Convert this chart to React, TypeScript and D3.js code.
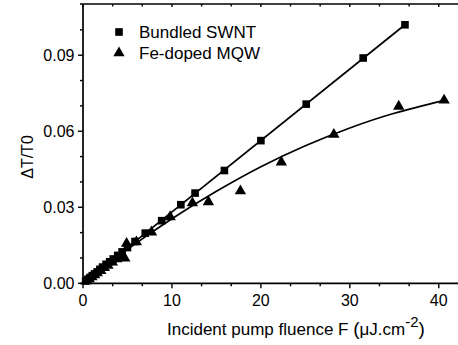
import React from "react";
import * as d3 from "d3";

// Bundled SWNT data (squares)
const swntF = [0.3, 0.55, 0.8, 1.05, 1.3, 1.6, 1.9, 2.2, 2.6, 3.0, 3.4, 3.9, 4.4, 5.0, 5.85, 7.0, 8.85, 11.0, 12.6, 15.9, 20.0, 25.1, 31.5, 36.2];
const swntV = [0.0009, 0.0016, 0.0023, 0.003, 0.0037, 0.0045, 0.0055, 0.0064, 0.0075, 0.0085, 0.0096, 0.011, 0.0124, 0.0141, 0.0165, 0.0198, 0.0247, 0.031, 0.0356, 0.0445, 0.0563, 0.0707, 0.0889, 0.102];

// Fe-doped MQW data (triangles)
const mqwF = [0.4, 0.7, 1.0, 1.3, 1.6, 2.0, 2.4, 2.8, 3.3, 3.8, 4.2, 4.7, 4.9, 6.0, 7.7, 9.8, 12.3, 14.1, 17.7, 22.3, 28.2, 35.5, 40.6];
const mqwV = [0.0011, 0.0019, 0.0027, 0.0035, 0.0043, 0.0052, 0.0063, 0.0072, 0.0085, 0.0098, 0.0105, 0.0101, 0.0159, 0.0165, 0.0204, 0.0264, 0.0319, 0.0323, 0.0366, 0.048, 0.0589, 0.07, 0.0724];

// Fit lines
const swntFitF = [0, 36.2];
const swntFitV = [0, 0.102];
const mqwFitF = [0, 5, 10, 15, 20, 25, 30, 35, 40.6];
const mqwFitV = [0, 0.0134, 0.0255, 0.0363, 0.046, 0.0543, 0.0613, 0.0671, 0.0722];

// Ticks
const xMajor = [0, 10, 20, 30, 40];
const xMinor = [10 / 3, 20 / 3, 40 / 3, 50 / 3, 70 / 3, 80 / 3, 100 / 3, 110 / 3, 130 / 3];
const yMajor = [0, 0.03, 0.06, 0.09];
const yMinor = [0.01, 0.02, 0.04, 0.05, 0.07, 0.08, 0.1];

const seriesNames = ["Bundled SWNT", "Fe-doped MQW"];

const W = 458;
const H = 345;

export default function App() {
  const x = d3.scaleLinear().domain([0, 42.5]).range([83, 461]);
  const y = d3.scaleLinear().domain([0, 0.1102]).range([283.3, 4]);
  const line = d3
    .line<[number, number]>()
    .x((d) => x(d[0]))
    .y((d) => y(d[1]));
  const curve = d3
    .line<[number, number]>()
    .x((d) => x(d[0]))
    .y((d) => y(d[1]))
    .curve(d3.curveNatural);
  const sq = d3.symbol().type(d3.symbolSquare).size(58)()!;
  const tri = d3.symbol().type(d3.symbolTriangle).size(56)()!;
  const font = "'Liberation Sans', Arial, sans-serif";
  const x0 = x(0);
  const y0 = y(0);
  const yTop = 4;
  const xRight = W + 5;

  const xMinorFiltered = xMinor.filter((v) => x(v) < W);

  return (
    <svg
      width={W}
      height={H}
      style={{ position: "absolute", left: 0, top: 0, background: "#fff" }}
      fontFamily={font}
    >
      {/* fit lines */}
      <path d={line(swntFitF.map((f, i) => [f, swntFitV[i]]))!} fill="none" stroke="#000" strokeWidth={1.7} />
      <path d={curve(mqwFitF.map((f, i) => [f, mqwFitV[i]]))!} fill="none" stroke="#000" strokeWidth={1.7} />

      {/* markers */}
      {swntF.map((f, i) => (
        <path key={"s" + i} d={sq} transform={`translate(${x(f)},${y(swntV[i])})`} fill="#000" />
      ))}
      {mqwF.map((f, i) => (
        <path key={"t" + i} d={tri} transform={`translate(${x(f)},${y(mqwV[i]) + 0.5})`} fill="#000" />
      ))}

      {/* axes lines */}
      <line x1={x0} x2={x0} y1={yTop} y2={y0} stroke="#000" strokeWidth={1.7} />
      <line x1={x0 - 3} x2={xRight} y1={y0} y2={y0} stroke="#000" strokeWidth={1.7} />
      <line x1={x0 - 3} x2={xRight} y1={yTop} y2={yTop} stroke="#000" strokeWidth={1.7} />

      {/* x ticks bottom and top */}
      {xMajor.map((v) => (
        <g key={"xm" + v}>
          <line x1={x(v)} x2={x(v)} y1={y0} y2={y0 + 5} stroke="#000" strokeWidth={1.4} />
          <line x1={x(v)} x2={x(v)} y1={yTop} y2={yTop + 3} stroke="#000" strokeWidth={1.4} />
          <text x={x(v)} y={306} textAnchor="middle" fontSize={16} fill="#000">
            {v}
          </text>
        </g>
      ))}
      {xMinorFiltered.map((v, i) => (
        <g key={"xn" + i}>
          <line x1={x(v)} x2={x(v)} y1={y0} y2={y0 + 3} stroke="#000" strokeWidth={1.4} />
          <line x1={x(v)} x2={x(v)} y1={yTop} y2={yTop + 2.5} stroke="#000" strokeWidth={1.4} />
        </g>
      ))}

      {/* y ticks */}
      {yMajor.map((v) => (
        <g key={"ym" + v}>
          <line x1={x0 - 5} x2={x0} y1={y(v)} y2={y(v)} stroke="#000" strokeWidth={1.4} />
          <text x={74.5} y={y(v)} dy="0.36em" textAnchor="end" fontSize={16} fill="#000">
            {d3.format(".2f")(v)}
          </text>
        </g>
      ))}
      {yMinor.map((v, i) => (
        <line key={"yn" + i} x1={x0 - 3} x2={x0} y1={y(v)} y2={y(v)} stroke="#000" strokeWidth={1.4} />
      ))}

      {/* axis titles */}
      <text transform="translate(33,157) rotate(-90)" textAnchor="middle" fontSize={16} fill="#000">
        ΔT/T0
      </text>
      <text x={167} y={335} fontSize={17} fill="#000">
        Incident pump fluence F <tspan fontSize={19}>(</tspan>μJ.cm
        <tspan dy={-8} fontSize={15}>-2</tspan>
        <tspan dy={8} fontSize={19}>)</tspan>
      </text>

      {/* legend */}
      <path d={sq} transform="translate(119,32)" fill="#000" />
      <text x={139} y={38} fontSize={17} fill="#000">
        {seriesNames[0]}
      </text>
      <path d={tri} transform="translate(119,53)" fill="#000" />
      <text x={139} y={59} fontSize={17} fill="#000">
        {seriesNames[1]}
      </text>
    </svg>
  );
}
